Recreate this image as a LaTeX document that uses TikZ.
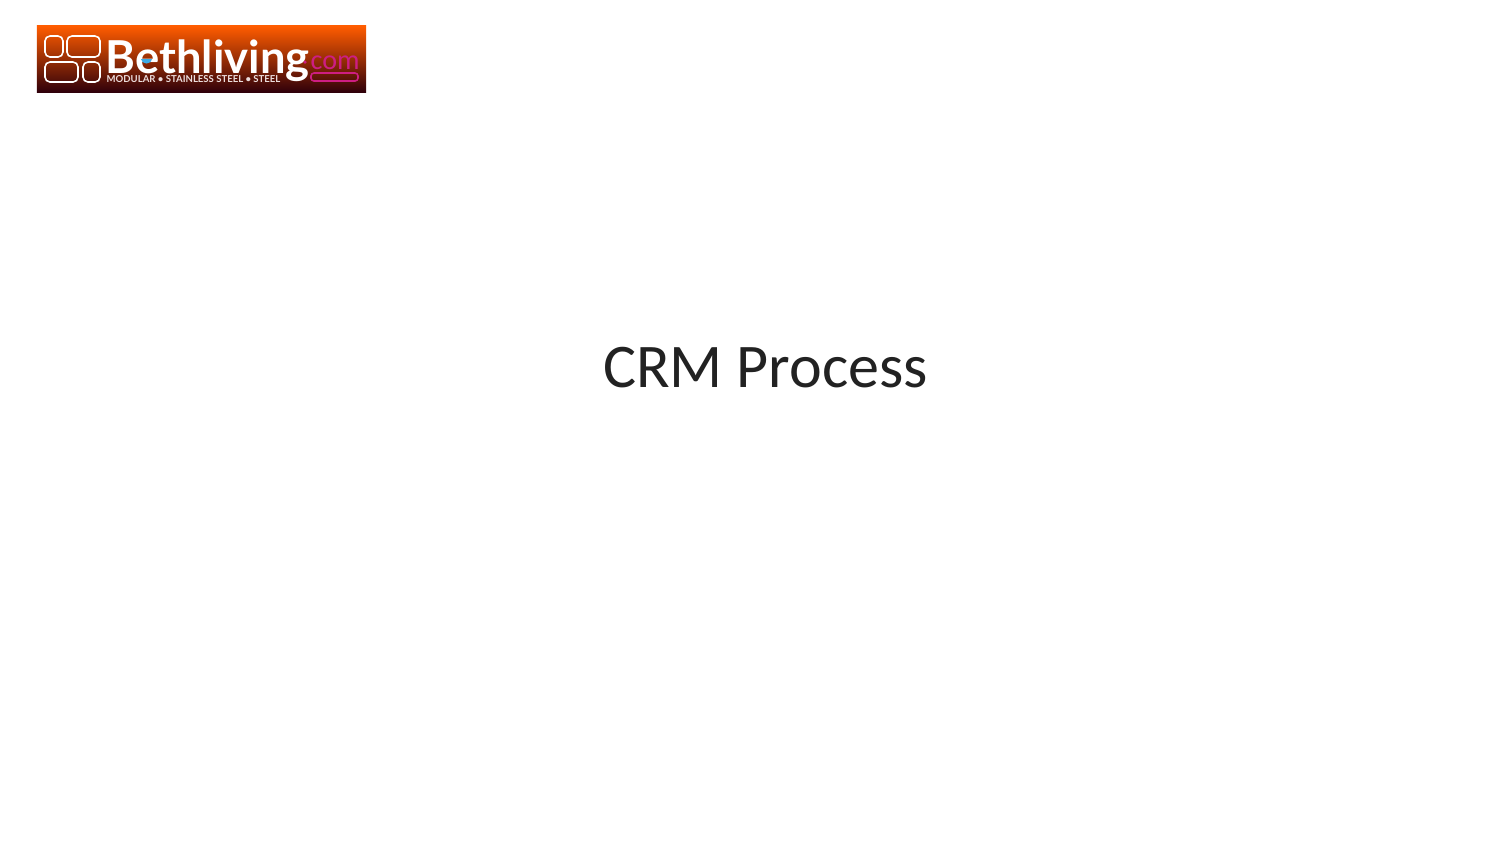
\documentclass[tikz,border=0pt]{standalone}
\usepackage{fontspec}
\setmainfont{Carlito}
\newfontfamily\logofont{Lato}
\usetikzlibrary{positioning}
\definecolor{logotop}{RGB}{255,92,0}
\definecolor{logomid}{RGB}{128,28,28}
\definecolor{logobot}{RGB}{48,0,10}
\definecolor{logopink}{RGB}{205,30,130}
\definecolor{logoblue}{RGB}{60,170,230}
\definecolor{titlecol}{RGB}{34,34,34}
\tikzset{
  tilebox/.style={draw=white, line width=0.45pt, rounded corners=0.5mm, inner sep=0pt},
}

\begin{document}
\begin{tikzpicture}[x=0.01cm, y=-0.01cm]
  \useasboundingbox (0,0) rectangle (1500,844);
  \fill[white] (0,0) rectangle (1500,844);

  \node[top color=logotop, middle color=logomid, bottom color=logobot, inner sep=0pt,
        minimum width=3.29cm, minimum height=0.66cm] (logo) at (201.5,59) {};

  \foreach \i/\xpos/\ypos/\wid/\hei in {0/54/46.5/0.18/0.21, 1/83.5/46.5/0.33/0.21,
                                        2/61.5/72/0.33/0.20, 3/91.5/72/0.17/0.20} {
    \node[tilebox, minimum width=\wid cm, minimum height=\hei cm] (tile\i) at (\xpos,\ypos) {};
  }

  \node[anchor=base west, inner sep=0pt, text=white, font=\logofont\bfseries\fontsize{12.9pt}{13pt}\selectfont]
    (brand) at (105,73) {Bethliving};
  \fill[logoblue] (141,59) arc[start angle=180, end angle=0, x radius=5.5, y radius=4.5] -- cycle;
  \node[anchor=base west, inner sep=0pt, text=white!85!logomid, font=\logofont\bfseries\fontsize{2.72pt}{3pt}\selectfont]
    (slogan) at (106,82) {MODULAR • STAINLESS STEEL • STEEL};
  \node[anchor=base west, inner sep=0pt, text=logopink, font=\fontsize{8pt}{10pt}\selectfont]
    (domain) at (310,69) {com};
  \node[circle, fill=logopink, inner sep=0pt, minimum size=0.035cm] (dot) at (305,62) {};
  \node[draw=logopink, line width=0.45pt, rounded corners=0.3mm, inner sep=0pt,
        minimum width=0.47cm, minimum height=0.08cm] (bar) at (334.5,77) {};

  \node[text=titlecol, inner sep=0pt, font=\fontsize{17.65pt}{20pt}\selectfont] (title) at (765.5,368) {CRM Process};
\end{tikzpicture}
\end{document}
